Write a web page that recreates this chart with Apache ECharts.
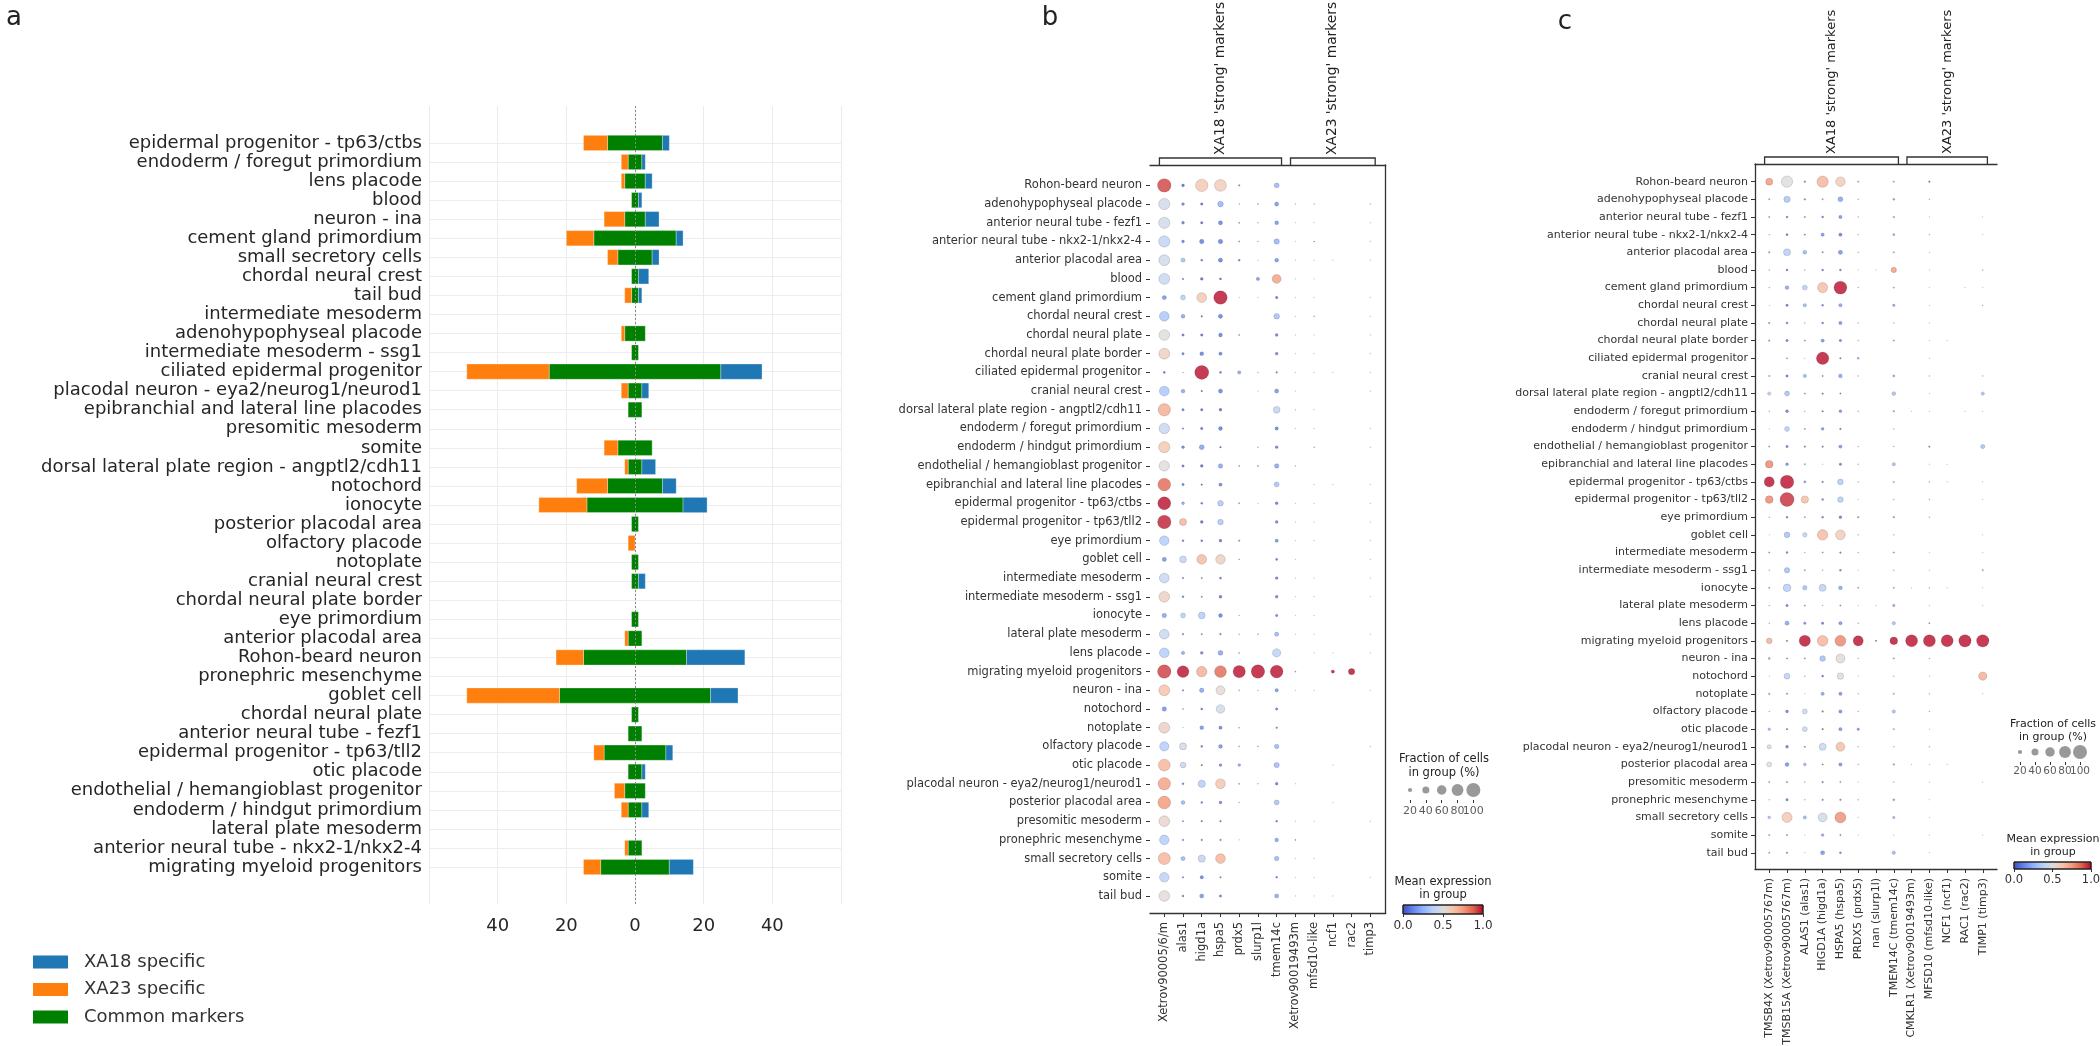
<!DOCTYPE html>
<html><head><meta charset="utf-8">
<script src="https://cdn.jsdelivr.net/npm/echarts@6/dist/echarts.min.js"></script>
<style>html,body{margin:0;padding:0;background:#fff}#c{width:2100px;height:1046px}</style>
</head><body><div id="c"></div>
<script>
// ---------------- DATA ----------------
const cellTypesA = ["epidermal progenitor - tp63/ctbs","endoderm / foregut primordium","lens placode","blood","neuron - ina","cement gland primordium","small secretory cells","chordal neural crest","tail bud","intermediate mesoderm","adenohypophyseal placode","intermediate mesoderm - ssg1","ciliated epidermal progenitor","placodal neuron - eya2/neurog1/neurod1","epibranchial and lateral line placodes","presomitic mesoderm","somite","dorsal lateral plate region - angptl2/cdh11","notochord","ionocyte","posterior placodal area","olfactory placode","notoplate","cranial neural crest","chordal neural plate border","eye primordium","anterior placodal area","Rohon-beard neuron","pronephric mesenchyme","goblet cell","chordal neural plate","anterior neural tube - fezf1","epidermal progenitor - tp63/tll2","otic placode","endothelial / hemangioblast progenitor","endoderm / hindgut primordium","lateral plate mesoderm","anterior neural tube - nkx2-1/nkx2-4","migrating myeloid progenitors"];
const commonMarkers = [16,4,6,2,6,24,10,2,2,0,6,2,50,4,4,0,10,4,16,28,2,0,2,2,0,2,4,30,0,44,2,4,18,4,6,4,0,4,20];
const xa23Specific  = [7,2,1,0,6,8,3,0,2,0,1,0,24,2,0,0,4,1,9,14,0,2,0,0,0,0,1,8,0,27,0,0,3,0,3,2,0,1,5];
const xa18Specific  = [2,1,2,1,4,2,2,3,1,0,0,0,12,2,0,0,0,4,4,7,0,0,0,2,0,0,0,17,0,8,0,0,2,1,0,2,0,0,7];
const legendNamesA = ['XA18 specific', 'XA23 specific', 'Common markers'];

const cellTypesBC = ["Rohon-beard neuron","adenohypophyseal placode","anterior neural tube - fezf1","anterior neural tube - nkx2-1/nkx2-4","anterior placodal area","blood","cement gland primordium","chordal neural crest","chordal neural plate","chordal neural plate border","ciliated epidermal progenitor","cranial neural crest","dorsal lateral plate region - angptl2/cdh11","endoderm / foregut primordium","endoderm / hindgut primordium","endothelial / hemangioblast progenitor","epibranchial and lateral line placodes","epidermal progenitor - tp63/ctbs","epidermal progenitor - tp63/tll2","eye primordium","goblet cell","intermediate mesoderm","intermediate mesoderm - ssg1","ionocyte","lateral plate mesoderm","lens placode","migrating myeloid progenitors","neuron - ina","notochord","notoplate","olfactory placode","otic placode","placodal neuron - eya2/neurog1/neurod1","posterior placodal area","presomitic mesoderm","pronephric mesenchyme","small secretory cells","somite","tail bud"];
const genesB = ["Xetrov90005/6/m","alas1","higd1a","hspa5","prdx5","slurp1l","tmem14c","Xetrov90019493m","mfsd10-like","ncf1","rac2","timp3"];
const genesC = ["TMSB4X (Xetrov90005767m)","TMSB15A (Xetrov90005767m)","ALAS1 (alas1)","HIGD1A (higd1a)","HSPA5 (hspa5)","PRDX5 (prdx5)","nan (slurp1l)","TMEM14C (tmem14c)","CMKLR1 (Xetrov90019493m)","MFSD10 (mfsd10-like)","NCF1 (ncf1)","RAC1 (rac2)","TIMP1 (timp3)"];
const groupsB = [{label:"XA18 'strong' markers", from:0, to:6},{label:"XA23 'strong' markers", from:7, to:11}];
const groupsC = [{label:"XA18 'strong' markers", from:0, to:7},{label:"XA23 'strong' markers", from:8, to:12}];

// fraction of cells in group (%) — panel b
const fracB = [
[95,12,85,80,6,0,25,0,0,0,0,0],
[75,12,10,30,3,4,20,3,3,0,0,3],
[75,12,10,20,5,3,18,2,2,0,0,2],
[75,12,22,22,5,3,28,2,3,0,0,2],
[72,20,8,20,8,2,18,2,2,2,0,2],
[72,6,12,8,0,15,55,2,2,0,0,0],
[20,25,62,95,2,2,10,2,2,0,0,2],
[62,18,6,20,0,0,30,2,3,0,0,2],
[70,10,10,18,5,0,12,2,2,0,0,2],
[72,10,18,15,0,0,12,2,2,0,0,2],
[8,3,100,8,15,3,6,2,2,2,0,2],
[62,18,6,20,0,2,20,2,0,0,0,2],
[85,10,10,12,0,0,38,3,2,0,0,0],
[68,6,10,18,0,0,15,2,2,0,0,2],
[75,12,25,6,0,3,12,0,3,0,0,2],
[68,10,12,22,5,5,22,3,0,0,0,0],
[88,10,6,15,0,0,25,0,2,2,0,2],
[90,12,8,30,5,2,12,2,2,0,0,2],
[95,40,12,30,0,0,12,2,2,0,0,2],
[60,8,8,12,6,0,15,2,2,0,0,2],
[20,38,62,60,4,0,8,2,0,0,0,2],
[62,6,5,8,0,0,12,2,2,0,0,2],
[70,8,5,12,0,0,12,2,2,0,0,2],
[22,25,38,18,3,0,10,2,2,0,0,0],
[62,6,5,6,3,4,20,2,2,0,0,2],
[62,15,12,25,5,0,50,0,2,2,0,2],
[95,80,68,80,85,95,88,4,0,15,35,0],
[72,6,22,55,4,3,15,2,2,0,0,2],
[22,4,8,52,0,0,10,0,0,0,0,0],
[72,2,18,15,4,0,6,0,0,0,0,0],
[58,40,8,18,5,4,22,0,0,0,0,2],
[80,30,6,12,12,0,28,0,0,2,0,0],
[85,8,42,62,5,3,12,2,0,0,0,0],
[88,18,8,12,3,0,25,0,0,2,0,0],
[70,5,6,6,0,0,8,2,2,0,0,2],
[60,6,6,6,2,0,18,4,0,0,0,0],
[82,20,42,62,0,0,22,2,2,0,0,0],
[60,6,15,6,0,0,8,2,2,0,0,2],
[70,8,20,10,0,0,20,2,2,2,0,0]];
// mean expression in group — panel b
const exprB = [
[0.92,0.05,0.62,0.60,0.15,0,0.25,0,0,0,0,0],
[0.45,0.10,0.05,0.25,0.2,0.2,0.15,0.5,0.5,0,0,0.5],
[0.45,0.1,0.05,0.1,0.2,0.3,0.15,0.5,0.5,0,0,0.5],
[0.40,0.1,0.1,0.1,0.2,0.3,0.25,0.5,0.9,0,0,0.5],
[0.45,0.3,0.05,0.1,0.1,0.4,0.15,0.5,0.5,0.5,0,0.5],
[0.42,0.1,0.05,0.05,0,0.15,0.74,0.5,0.5,0,0,0],
[0.15,0.35,0.62,0.99,0.4,0.4,0.05,0.5,0.5,0,0,0.5],
[0.33,0.2,0.05,0.1,0,0,0.3,0.5,0.85,0,0,0.5],
[0.5,0.1,0.05,0.1,0.2,0,0.1,0.5,0.5,0,0,0.5],
[0.58,0.1,0.1,0.1,0,0,0.1,0.5,0.5,0,0,0.5],
[0.05,0.3,0.99,0.05,0.2,0.3,0.1,0.5,0.5,0.5,0,0.5],
[0.33,0.2,0.05,0.1,0,0.4,0.15,0.5,0,0,0,0.5],
[0.70,0.1,0.05,0.05,0,0,0.4,0.5,0.5,0,0,0],
[0.42,0.1,0.05,0.1,0,0,0.1,0.5,0.5,0,0,0.5],
[0.62,0.1,0.2,0.05,0,0.3,0.1,0,0.85,0,0,0.5],
[0.5,0.1,0.05,0.2,0.2,0.2,0.2,0.4,0,0,0,0],
[0.86,0.1,0.05,0.1,0,0,0.3,0,0.5,0.5,0,0.5],
[0.99,0.2,0.05,0.33,0.2,0.4,0.1,0.5,0.5,0,0,0.5],
[0.97,0.68,0.05,0.33,0,0,0.1,0.5,0.5,0,0,0.5],
[0.35,0.1,0.05,0.05,0.2,0,0.15,0.5,0.5,0,0,0.5],
[0.15,0.4,0.66,0.58,0.3,0,0.05,0.5,0,0,0,0.5],
[0.42,0.1,0.1,0.05,0,0,0.1,0.5,0.5,0,0,0.5],
[0.58,0.1,0.1,0.05,0,0,0.1,0.5,0.5,0,0,0.5],
[0.2,0.35,0.35,0.1,0.3,0,0.1,0.5,0.5,0,0,0],
[0.42,0.1,0.1,0.1,0.3,0.3,0.25,0.5,0.5,0,0,0.5],
[0.35,0.2,0.1,0.2,0.3,0,0.38,0,0.5,0.5,0,0.5],
[0.93,0.99,0.70,0.86,0.99,0.99,0.99,0.85,0,0.99,0.99,0],
[0.64,0.1,0.2,0.52,0.3,0.3,0.15,0.5,0.5,0,0,0.5],
[0.15,0.2,0.05,0.45,0,0,0.1,0,0,0,0,0],
[0.58,0.4,0.15,0.1,0.3,0,0.1,0,0,0,0,0],
[0.35,0.45,0.1,0.15,0.3,0.3,0.25,0,0,0,0,0.8],
[0.68,0.4,0.1,0.1,0.2,0,0.28,0,0,0.5,0,0],
[0.74,0.1,0.35,0.63,0.3,0.3,0.1,0.6,0,0,0,0],
[0.76,0.25,0.1,0.1,0.3,0,0.3,0,0,0.5,0,0],
[0.55,0.1,0.1,0.1,0,0,0.1,0.5,0.5,0,0,0.5],
[0.35,0.1,0.1,0.1,0.4,0,0.2,0.85,0,0,0,0],
[0.68,0.25,0.4,0.68,0,0,0.25,0.5,0.5,0,0,0],
[0.38,0.1,0.1,0.1,0,0,0.1,0.5,0.5,0,0,0.5],
[0.52,0.1,0.15,0.1,0,0,0.2,0.5,0.5,0.5,0,0]];
// fraction of cells in group (%) — panel c
const fracC = [
[40,75,6,75,60,5,0,5,0,6,0,0,0],
[5,35,6,5,25,3,0,8,0,3,0,0,0],
[5,8,5,8,15,3,0,6,0,2,0,0,2],
[3,8,5,15,15,3,0,8,0,3,0,0,2],
[6,40,18,5,20,3,0,5,0,2,0,0,0],
[3,8,3,8,8,2,2,28,0,2,0,0,3],
[3,18,25,65,90,3,0,5,0,2,0,2,2],
[2,10,15,8,15,0,0,10,0,2,0,0,3],
[6,8,3,8,15,3,0,3,0,2,0,0,0],
[6,10,5,15,10,3,0,5,0,2,2,0,0],
[0,5,2,85,6,8,0,0,0,2,0,0,0],
[5,10,15,5,18,3,0,8,0,3,0,0,3],
[15,25,5,6,5,0,0,18,0,2,0,0,15],
[3,12,3,6,12,3,0,6,2,2,0,2,2],
[2,25,5,12,6,0,0,3,0,0,0,0,0],
[5,10,6,6,15,3,0,3,0,6,0,0,20],
[45,12,5,2,10,3,0,15,0,2,2,0,0],
[65,95,8,6,30,3,0,5,0,3,2,0,2],
[45,100,42,8,30,2,0,3,0,3,0,0,2],
[3,8,5,8,12,6,0,6,0,3,0,0,0],
[2,30,22,68,62,3,0,3,0,0,0,0,2],
[5,8,3,5,6,3,0,5,0,2,0,0,2],
[3,28,5,3,8,2,0,3,0,2,0,0,5],
[5,45,22,40,18,5,0,5,2,3,2,0,2],
[3,10,5,3,5,2,2,10,0,2,0,0,2],
[3,20,10,10,15,3,0,15,0,5,0,0,0],
[30,6,75,70,72,65,5,45,82,82,82,85,85],
[8,5,5,30,55,3,0,5,0,3,0,0,0],
[2,32,3,8,35,2,0,3,0,2,0,0,50],
[6,5,2,15,15,3,0,5,0,3,0,0,2],
[3,12,25,6,15,3,0,15,0,3,0,0,0],
[10,6,25,6,15,10,0,5,0,2,0,0,0],
[20,12,5,40,55,3,0,3,0,3,0,0,0],
[25,18,12,5,15,3,0,6,2,2,2,0,0],
[5,5,3,6,5,2,0,3,0,2,0,0,2],
[3,10,3,6,6,3,0,8,0,2,0,0,0],
[12,65,15,55,72,2,0,10,0,2,0,0,0],
[5,5,2,12,5,2,0,2,0,2,0,0,2],
[5,6,2,20,8,0,0,15,0,2,0,0,0]];
// mean expression in group — panel c
const exprC = [
[0.76,0.5,0.1,0.68,0.6,0.2,0,0.2,0,0.1,0,0,0],
[0.2,0.32,0.1,0.2,0.2,0.3,0,0.2,0,0.3,0,0,0],
[0.2,0.1,0.1,0.1,0.15,0.3,0,0.2,0,0.5,0,0,0.5],
[0.3,0.05,0.1,0.15,0.1,0.3,0,0.2,0,0.3,0,0,0.5],
[0.2,0.36,0.25,0.1,0.15,0.3,0,0.2,0,0.5,0,0,0],
[0.3,0.05,0.3,0.1,0.1,0.5,0.5,0.75,0,0.5,0,0,0.3],
[0.3,0.2,0.35,0.65,0.99,0.3,0,0.2,0,0.5,0,0.5,0.5],
[0.4,0.1,0.25,0.1,0.2,0,0,0.2,0,0.5,0,0,0.3],
[0.2,0.1,0.3,0.1,0.15,0.3,0,0.3,0,0.5,0,0,0],
[0.2,0.1,0.2,0.15,0.1,0.3,0,0.2,0,0.5,0.5,0,0],
[0,0.2,0.4,0.99,0.1,0.2,0,0,0,0.5,0,0,0],
[0.2,0.1,0.25,0.1,0.2,0.3,0,0.2,0,0.3,0,0,0.3],
[0.35,0.3,0.2,0.1,0.1,0,0,0.3,0,0.5,0,0,0.3],
[0.3,0.1,0.3,0.1,0.15,0.3,0,0.2,0.5,0.5,0,0.5,0.5],
[0.5,0.35,0.2,0.15,0.1,0,0,0.3,0,0,0,0,0],
[0.2,0.1,0.1,0.1,0.15,0.3,0,0.3,0,0.15,0,0,0.3],
[0.8,0.15,0.2,0.3,0.1,0.3,0,0.3,0,0.5,0.5,0,0],
[0.99,0.99,0.15,0.1,0.35,0.3,0,0.2,0,0.3,0.5,0,0.5],
[0.8,0.95,0.65,0.1,0.35,0.5,0,0.3,0,0.3,0,0,0.5],
[0.3,0.1,0.2,0.1,0.1,0.2,0,0.2,0,0.3,0,0,0],
[0.5,0.3,0.38,0.66,0.6,0.3,0,0.3,0,0,0,0,0.5],
[0.2,0.1,0.3,0.2,0.1,0.3,0,0.2,0,0.5,0,0,0.5],
[0.3,0.3,0.2,0.3,0.1,0.5,0,0.3,0,0.5,0,0,0.2],
[0.2,0.36,0.3,0.38,0.2,0.2,0,0.2,0.5,0.3,0.5,0,0.5],
[0.3,0.1,0.2,0.3,0.2,0.5,0.5,0.2,0,0.5,0,0,0.5],
[0.3,0.2,0.15,0.1,0.15,0.3,0,0.3,0,0.2,0,0,0],
[0.7,0.1,0.99,0.68,0.8,0.99,0.95,0.99,0.99,0.99,0.99,0.99,0.99],
[0.2,0.1,0.2,0.3,0.52,0.3,0,0.2,0,0.3,0,0,0],
[0.5,0.38,0.3,0.1,0.5,0.5,0,0.3,0,0.5,0,0,0.7],
[0.2,0.1,0.4,0.2,0.15,0.3,0,0.2,0,0.3,0,0,0.5],
[0.3,0.1,0.42,0.1,0.15,0.3,0,0.3,0,0.3,0,0,0],
[0.25,0.1,0.42,0.1,0.15,0.15,0,0.2,0,0.5,0,0,0],
[0.45,0.1,0.1,0.42,0.65,0.3,0,0.3,0,0.3,0,0,0],
[0.5,0.15,0.25,0.1,0.15,0.3,0,0.2,0.5,0.5,0.5,0,0],
[0.2,0.1,0.3,0.1,0.2,0.5,0,0.3,0,0.5,0,0,0.5],
[0.3,0.1,0.3,0.1,0.1,0.3,0,0.2,0,0.5,0,0,0],
[0.3,0.62,0.25,0.45,0.78,0.5,0,0.25,0,0.5,0,0,0],
[0.2,0.1,0.4,0.2,0.1,0.5,0,0.4,0,0.5,0,0,0.5],
[0.2,0.1,0.5,0.15,0.1,0,0,0.25,0,0.5,0,0,0]];
const sizeLegendValues = [20,40,60,80,100];
const colorbarTicks = [0,0.5,1];

// ---------------- HELPERS ----------------
const F = 'DejaVu Sans';
const TXT = '#333';
const coolwarmStops = [[59,76,192],[98,130,234],[141,176,254],[184,208,249],[221,220,220],[245,196,173],[244,154,123],[222,96,77],[180,4,38]];
function coolwarm(t){
  t = Math.max(0, Math.min(1, t));
  const n = coolwarmStops.length - 1, f = t * n, i = Math.min(n - 1, Math.floor(f)), u = f - i;
  const a = coolwarmStops[i], b = coolwarmStops[i + 1];
  return 'rgb(' + [0,1,2].map(k => Math.round(a[k] + (b[k] - a[k]) * u)).join(',') + ')';
}
const gradStops = coolwarmStops.map((c, i) => ({offset: i / (coolwarmStops.length - 1), color: 'rgb(' + c.join(',') + ')'}));
function dotSize(frac){ return 14 * Math.pow(frac / 100, 0.75); }
function buildDots(frac, expr){
  const out = [];
  frac.forEach((row, r) => row.forEach((f, c) => { if (f > 0) out.push([c, r, f, expr[r][c]]); }));
  return out;
}
const idxRows = cellTypesBC.map((_, i) => i);
const idxA = cellTypesA.map((_, i) => i);
const idxB = genesB.map((_, i) => i);
const idxC = genesC.map((_, i) => i);

const greenBars = [], orangeBars = [], blueBars = [];
cellTypesA.forEach((_, i) => {
  const h = commonMarkers[i] / 2;
  if (commonMarkers[i] > 0) greenBars.push([-h, h, i]);
  if (xa23Specific[i] > 0) orangeBars.push([-h - xa23Specific[i], -h, i]);
  if (xa18Specific[i] > 0) blueBars.push([h, h + xa18Specific[i], i]);
});
function barRender(params, api){
  const y = api.value(2);
  const p0 = api.coord([api.value(0), y]);
  const p1 = api.coord([api.value(1), y]);
  const h = api.size([0, 0.8])[1];
  return {type: 'rect', shape: {x: p0[0], y: p0[1] - h / 2, width: p1[0] - p0[0], height: h}, style: api.style({stroke: 'rgba(255,255,255,0.5)', lineWidth: 0.6})};
}
function cbRender(params, api){
  const p0 = api.coord([0, 1]);
  const p1 = api.coord([1, 0]);
  return {type: 'rect', shape: {x: p0[0], y: p0[1], width: p1[0] - p0[0], height: p1[1] - p0[1]},
    style: {fill: new echarts.graphic.LinearGradient(0, 0, 1, 0, gradStops), stroke: '#222', lineWidth: 1}};
}

const dotStyle = {color: p => coolwarm(p.value[3]), borderColor: 'rgba(0,0,0,0.28)', borderWidth: 0.6};
function spineAxis(gridIndex, position, min, max, extra){
  return Object.assign({gridIndex, type: 'value', position, min, max,
    axisLine: {show: true, onZero: false, lineStyle: {color: '#333', width: 1.3}},
    axisTick: {show: false}, axisLabel: {show: false}, splitLine: {show: false}}, extra || {});
}
function sizeLegendSeries(xi, yi, fontSize, dist){
  return [
    {type: 'scatter', xAxisIndex: xi, yAxisIndex: yi, data: sizeLegendValues.map(v => [v, 0, v]),
      symbolSize: v => dotSize(v[2]), itemStyle: {color: '#7f7f7f'}, silent: true},
    {type: 'scatter', xAxisIndex: xi, yAxisIndex: yi, data: sizeLegendValues.map(v => [v, -1, v]),
      symbolSize: 0.01, itemStyle: {color: 'rgba(0,0,0,0)'}, silent: true,
      label: {show: true, position: 'bottom', distance: dist, formatter: p => String(p.value[2]), fontSize, fontFamily: F, color: TXT},
      labelLayout: {hideOverlap: false}}
  ];
}

// ---------------- LAYOUT ----------------
const gridA = {left: 429, top: 106, width: 412, height: 798};
const gridB = {left: 1150, top: 165, width: 235.7, height: 748};
const gridC = {left: 1755, top: 164, width: 242, height: 705};
const gridBs = {left: 1394.2, top: 780, width: 95, height: 20};
const gridBcb = {left: 1403, top: 905, width: 80, height: 9};
const gridCs = {left: 2005, top: 742, width: 90, height: 20};
const gridCcb = {left: 2014, top: 862, width: 77, height: 7};
const noZero = {show: false, onZero: false};

const option = {
  animation: false,
  backgroundColor: '#fff',
  textStyle: {fontFamily: F},
  grid: [gridA, gridB, gridBs, gridBcb, gridC, gridCs, gridCcb].map(g => Object.assign({containLabel: false, outerBoundsMode: 'none'}, g)),
  legend: legendNamesA.map((name, i) => ({
    data: [name], orient: 'vertical', left: 28, top: 948 + i * 27.5, icon: 'rect', itemWidth: 35, itemHeight: 13,
    textStyle: {fontSize: 18, color: TXT, fontFamily: F, padding: [0, 0, 0, 11]}, selectedMode: false
  })),
  xAxis: [
    {gridIndex: 0, type: 'value', min: -60, max: 60, interval: 20,
      axisLine: noZero, axisTick: {show: false},
      axisLabel: {formatter: v => Math.abs(v) === 60 ? '' : String(Math.abs(v)), fontSize: 18, color: '#262626', margin: 13, fontFamily: F},
      splitLine: {show: true, lineStyle: {color: '#ebebeb', width: 1}}},
    {gridIndex: 1, type: 'value', position: 'bottom', min: -0.763, max: 11.822,
      axisLine: {show: true, onZero: false, lineStyle: {color: '#333', width: 1.3}},
      axisTick: {show: true, customValues: idxB, length: 4, lineStyle: {color: '#333'}},
      axisLabel: {customValues: idxB, formatter: v => genesB[v], rotate: 90, fontSize: 11.5, color: TXT, margin: 9, fontFamily: F, hideOverlap: false},
      splitLine: {show: false}},
    spineAxis(1, 'top', -0.763, 11.822),
    {gridIndex: 2, type: 'value', min: 0, max: 120, axisLine: noZero,
      axisTick: {show: true, customValues: sizeLegendValues, length: 3, lineStyle: {color: '#333'}},
      axisLabel: {show: false}, splitLine: {show: false}},
    {gridIndex: 3, type: 'value', min: 0, max: 1, axisLine: noZero,
      axisTick: {show: true, customValues: colorbarTicks, length: 3, lineStyle: {color: '#333'}},
      axisLabel: {customValues: colorbarTicks, formatter: v => v.toFixed(1), fontSize: 12, color: TXT, margin: 6, fontFamily: F, hideOverlap: false}, splitLine: {show: false}},
    {gridIndex: 4, type: 'value', position: 'bottom', min: -0.8, max: 12.8,
      axisLine: {show: true, onZero: false, lineStyle: {color: '#333', width: 1.3}},
      axisTick: {show: true, customValues: idxC, length: 4, lineStyle: {color: '#333'}},
      axisLabel: {customValues: idxC, formatter: v => genesC[v], rotate: 90, fontSize: 11, color: TXT, margin: 9, fontFamily: F, hideOverlap: false},
      splitLine: {show: false}},
    spineAxis(4, 'top', -0.8, 12.8),
    {gridIndex: 5, type: 'value', min: 0, max: 120, axisLine: noZero,
      axisTick: {show: true, customValues: sizeLegendValues, length: 3, lineStyle: {color: '#333'}},
      axisLabel: {show: false}, splitLine: {show: false}},
    {gridIndex: 6, type: 'value', min: 0, max: 1, axisLine: noZero,
      axisTick: {show: true, customValues: colorbarTicks, length: 3, lineStyle: {color: '#333'}},
      axisLabel: {customValues: colorbarTicks, formatter: v => v.toFixed(1), fontSize: 11.5, color: TXT, margin: 5, fontFamily: F, hideOverlap: false}, splitLine: {show: false}}
  ],
  yAxis: [
    {gridIndex: 0, type: 'value', inverse: true, min: -1.94, max: 39.94,
      axisLine: noZero, axisTick: {show: false, customValues: idxA},
      axisLabel: {customValues: idxA, formatter: v => cellTypesA[v], fontSize: 18, color: '#262626', margin: 7, fontFamily: F, hideOverlap: false},
      splitLine: {show: true, lineStyle: {color: '#ededed', width: 1}}},
    {gridIndex: 1, type: 'value', inverse: true, min: -1.09, max: 38.91, position: 'left',
      axisLine: noZero, axisTick: {show: true, customValues: idxRows, length: 4, lineStyle: {color: '#333'}},
      axisLabel: {customValues: idxRows, formatter: v => cellTypesBC[v], fontSize: 11.5, color: TXT, margin: 8, fontFamily: F, hideOverlap: false},
      splitLine: {show: false}},
    spineAxis(1, 'right', -1.09, 38.91, {inverse: true}),
    {gridIndex: 2, type: 'value', min: -1, max: 1, show: false, axisLine: noZero},
    {gridIndex: 3, type: 'value', min: 0, max: 1, show: false, axisLine: noZero},
    {gridIndex: 4, type: 'value', inverse: true, min: -1.0, max: 38.92, position: 'left',
      axisLine: {show: true, onZero: false, lineStyle: {color: '#333', width: 1.3}},
      axisTick: {show: true, customValues: idxRows, length: 4, lineStyle: {color: '#333'}},
      axisLabel: {customValues: idxRows, formatter: v => cellTypesBC[v], fontSize: 11, color: TXT, margin: 7, fontFamily: F, hideOverlap: false},
      splitLine: {show: false}},
    {gridIndex: 5, type: 'value', min: -1, max: 1, show: false, axisLine: noZero},
    {gridIndex: 6, type: 'value', min: 0, max: 1, show: false, axisLine: noZero}
  ],
  series: [
    {name: 'Common markers', type: 'custom', xAxisIndex: 0, yAxisIndex: 0, renderItem: barRender, data: greenBars,
      encode: {x: [0, 1], y: 2}, itemStyle: {color: '#008000'}, silent: true, z: 3,
      markLine: {silent: true, symbol: 'none', label: {show: false}, lineStyle: {color: '#8a8a8a', type: [2, 2], width: 1}, data: [{xAxis: 0}]}},
    {name: 'XA23 specific', type: 'custom', xAxisIndex: 0, yAxisIndex: 0, renderItem: barRender, data: orangeBars,
      encode: {x: [0, 1], y: 2}, itemStyle: {color: '#ff7f0e'}, silent: true, z: 3},
    {name: 'XA18 specific', type: 'custom', xAxisIndex: 0, yAxisIndex: 0, renderItem: barRender, data: blueBars,
      encode: {x: [0, 1], y: 2}, itemStyle: {color: '#1f77b4'}, silent: true, z: 3},
    {type: 'scatter', xAxisIndex: 1, yAxisIndex: 1, data: buildDots(fracB, exprB), symbolSize: v => dotSize(v[2]), itemStyle: dotStyle, silent: true},
    ...sizeLegendSeries(3, 3, 11, 5.5),
    {type: 'custom', xAxisIndex: 4, yAxisIndex: 4, renderItem: cbRender, data: [[0, 1]], silent: true},
    {type: 'scatter', xAxisIndex: 5, yAxisIndex: 5, data: buildDots(fracC, exprC), symbolSize: v => dotSize(v[2]), itemStyle: dotStyle, silent: true},
    ...sizeLegendSeries(7, 6, 10.5, 4),
    {type: 'custom', xAxisIndex: 8, yAxisIndex: 7, renderItem: cbRender, data: [[0, 1]], silent: true}
  ]
};

const chart = echarts.init(document.getElementById('c'), null, {renderer: 'canvas', width: 2100, height: 1046});
chart.setOption(option);

// ---------------- ANNOTATIONS ----------------
function txt(text, x, y, size, align, extra){
  return Object.assign({type: 'text', x, y, silent: true, style: {text, fontSize: size, fontFamily: F, fill: '#222',
    align: align || 'center', textAlign: align || 'center', verticalAlign: 'middle', textVerticalAlign: 'middle'}}, extra || {});
}
const gfx = [];
function addGroups(groups, xi, yi, top, size){
  groups.forEach(g => {
    const x0 = chart.convertToPixel({xAxisIndex: xi, yAxisIndex: yi}, [g.from - 0.26, 0])[0];
    const x1 = chart.convertToPixel({xAxisIndex: xi, yAxisIndex: yi}, [g.to + 0.26, 0])[0];
    gfx.push({type: 'polyline', silent: true, shape: {points: [[x0, top], [x0, top - 7], [x1, top - 7], [x1, top]]},
      style: {stroke: '#333', lineWidth: 1.3, fill: 'none'}});
    gfx.push(txt(g.label, (x0 + x1) / 2, top - 10, size, 'left', {rotation: Math.PI / 2}));
  });
}
addGroups(groupsB, 1, 1, gridB.top, 13.8);
addGroups(groupsC, 5, 5, gridC.top, 13);
gfx.push(txt('a', 14, 18, 26));
gfx.push(txt('b', 1050, 18, 26));
gfx.push(txt('c', 1565, 22, 26));
gfx.push(txt('Fraction of cells', 1444, 759, 11.5));
gfx.push(txt('in group (%)', 1444, 773, 11.5));
gfx.push(txt('Mean expression', 1443, 882, 11.5));
gfx.push(txt('in group', 1443, 895, 11.5));
gfx.push(txt('Fraction of cells', 2053, 724, 11));
gfx.push(txt('in group (%)', 2053, 737, 11));
gfx.push(txt('Mean expression', 2053, 839, 11));
gfx.push(txt('in group', 2053, 852, 11));
chart.setOption({graphic: gfx});
</script></body></html>
